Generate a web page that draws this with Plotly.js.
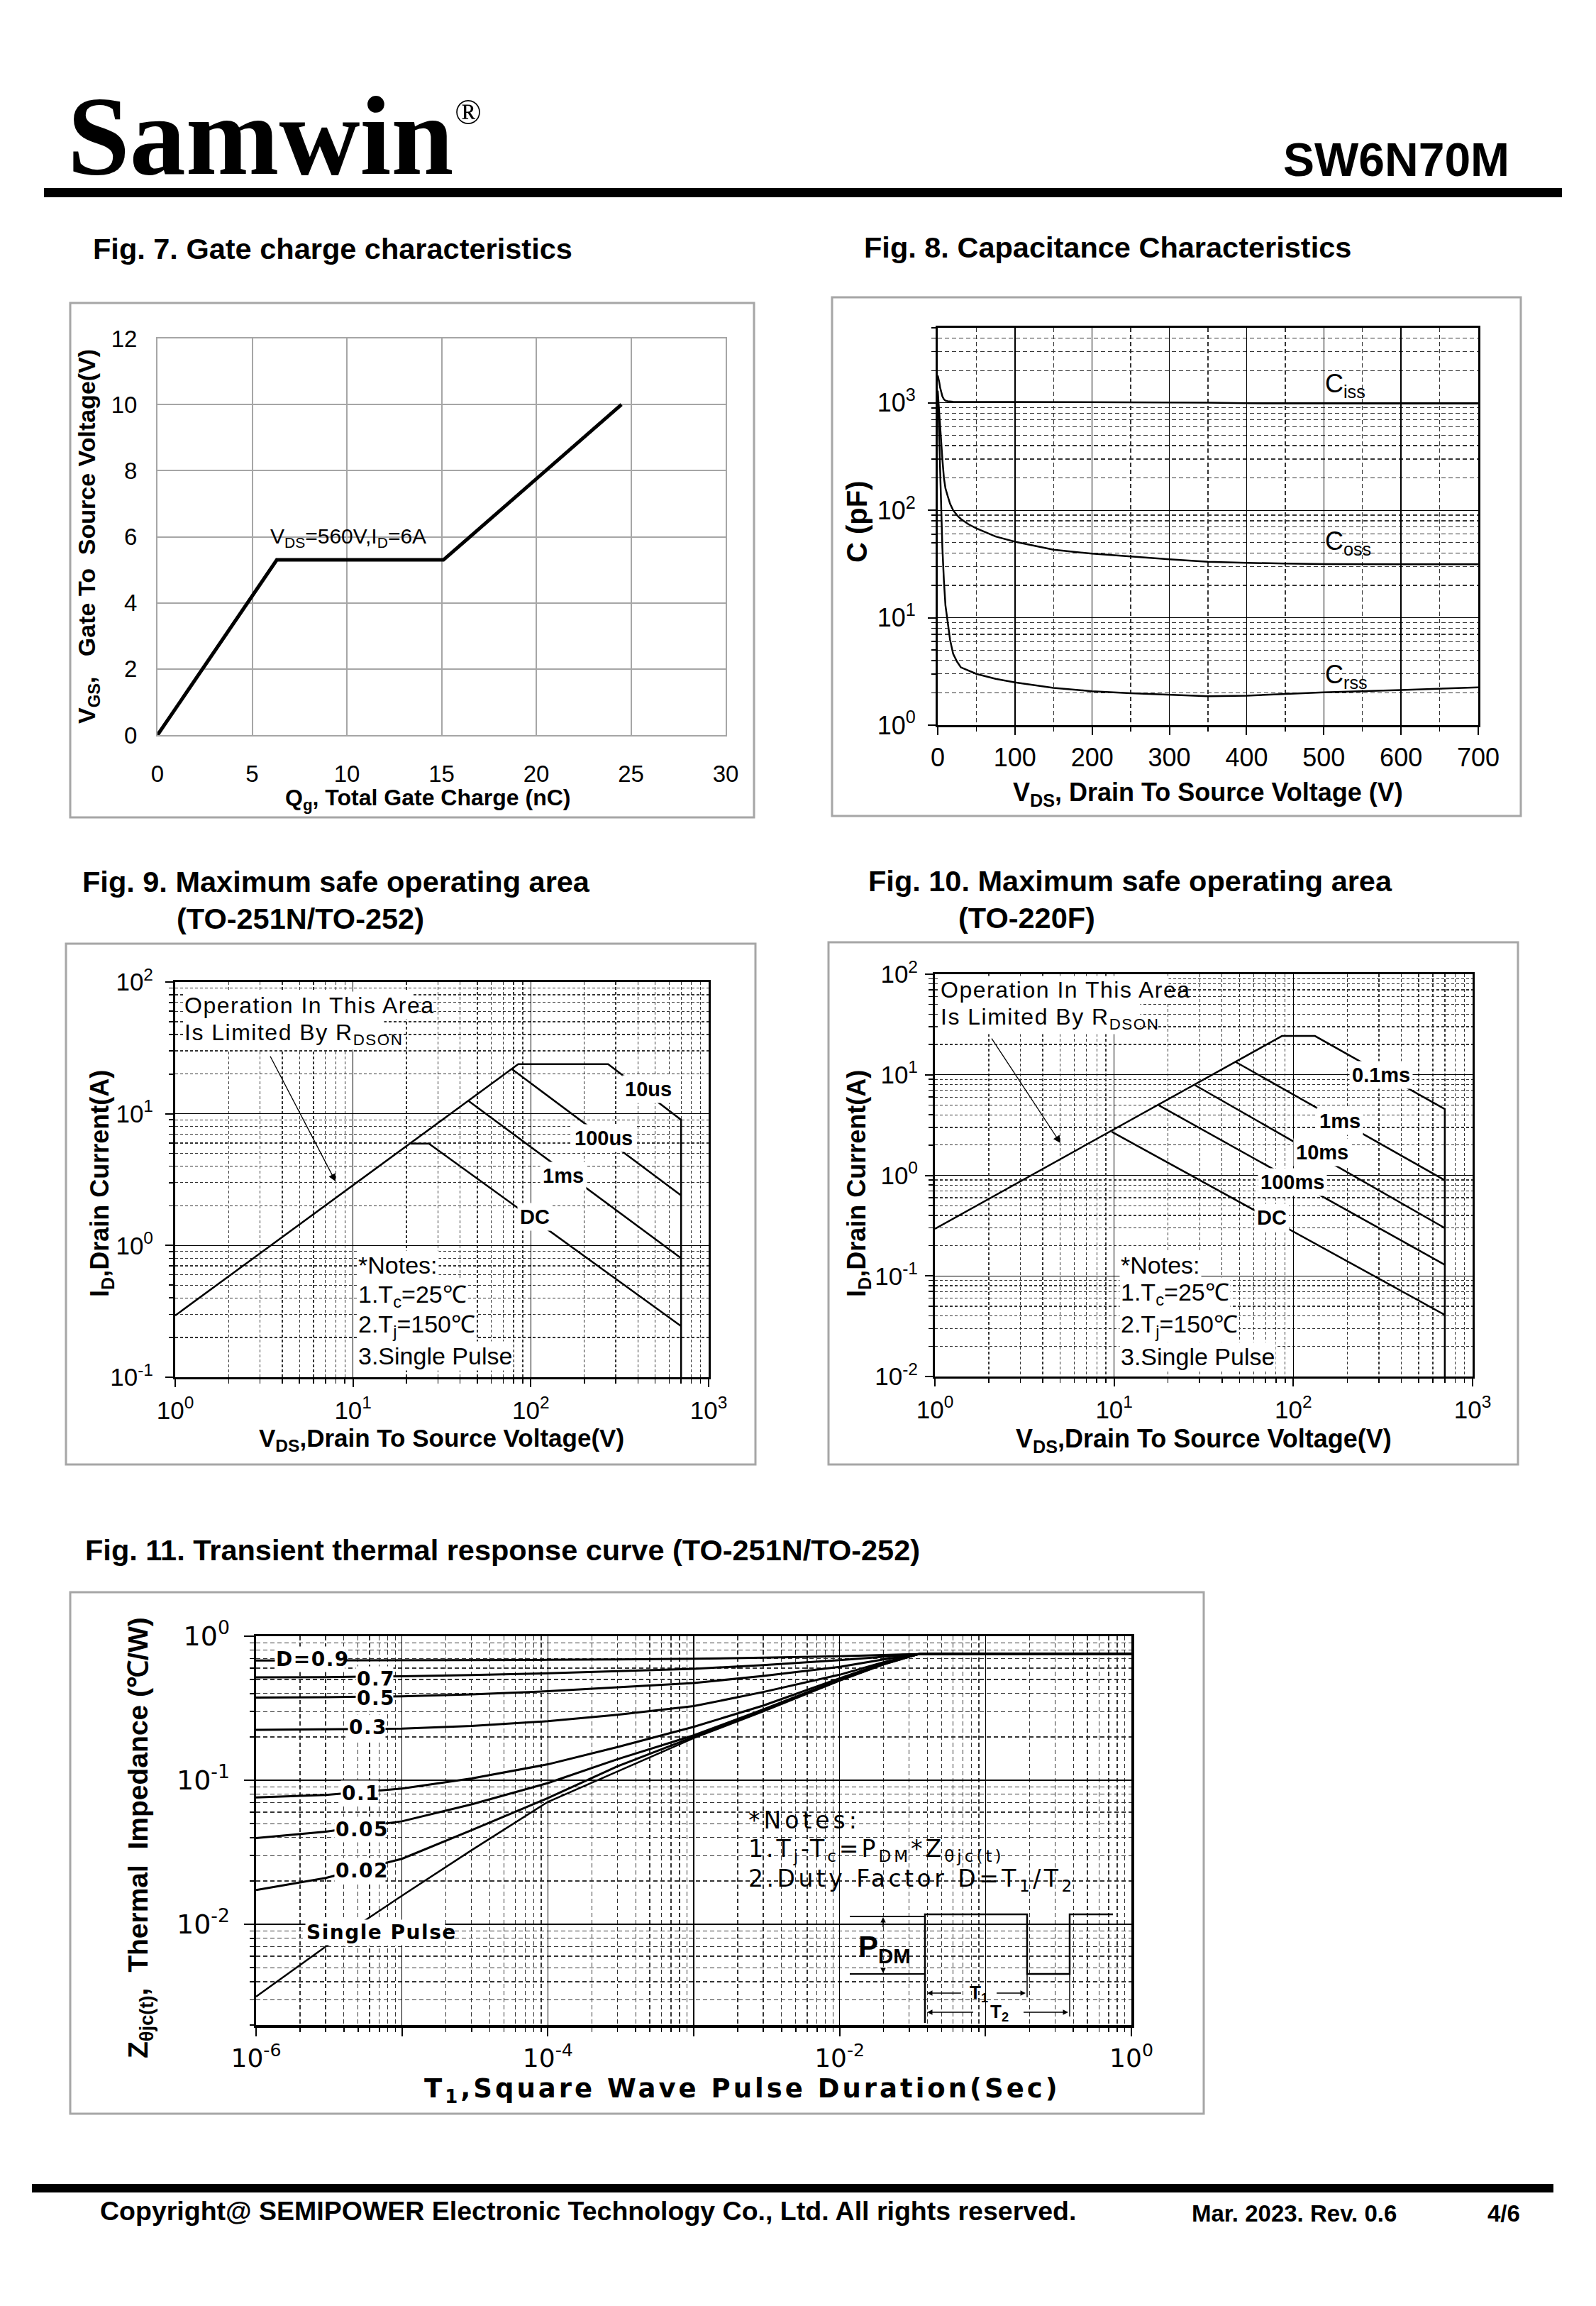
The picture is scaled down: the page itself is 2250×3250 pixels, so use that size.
<!DOCTYPE html>
<html><head><meta charset="utf-8">
<script src="https://cdn.plot.ly/plotly-3.0.1.min.js"></script>
<style>html,body{margin:0;padding:0;background:#fff}</style>
</head><body><div id="chart" style="width:2250px;height:3250px"></div>
<script>
// ================= DATA =================
// Fig. 7 Gate charge
const qgCharge   = [0, 6.3, 15.1, 24.5];
const vgsVoltage = [0, 5.3, 5.3, 10];
const fig7XTicks = [0, 5, 10, 15, 20, 25, 30];
const fig7YTicks = [0, 2, 4, 6, 8, 10, 12];

// Fig. 8 Capacitance
const capVds = [0,1,2,3,4,6,8,10,13,16,20,25,30,40,50,75,100,150,200,250,300,350,400,450,500,600,700];
const cissPF = [1800,1700,1550,1400,1300,1150,1080,1050,1035,1028,1024,1022,1021,1021,1020,1020,1020,1018,1015,1012,1010,1005,992,988,987,986,985];
const cossPF = [1300,1000,800,600,480,300,200,160,135,115,100,90,83,74,68,57,51,43,39.5,37,35,33.2,32.4,32,31.6,31.5,31.5];
const crssPF = [1100,800,450,250,140,45,22,13,9,6.2,4.6,3.9,3.45,3.2,3.0,2.7,2.5,2.22,2.07,1.98,1.92,1.86,1.88,1.95,2.02,2.12,2.25];
const fig8XTicks = [0,100,200,300,400,500,600,700];
const fig8YTickVals = [1,10,100,1000];
const fig8YTickText = ['10<sup>0</sup>','10<sup>1</sup>','10<sup>2</sup>','10<sup>3</sup>'];

// Fig. 9 SOA TO-251N/TO-252
const soa9_10usV  = [1, 85, 272, 700, 700];
const soa9_10usA  = [0.294, 23.8, 23.8, 9.0, 0.1];
const soa9_100usV = [78, 700];
const soa9_100usA = [21.9, 2.4];
const soa9_1msV   = [44.7, 700];
const soa9_1msA   = [12.5, 0.80];
const soa9_DCV    = [21.1, 26.7, 700];
const soa9_DCA    = [5.94, 5.94, 0.244];

// Fig. 10 SOA TO-220F
const soa10_01msV  = [1, 86.4, 132, 700, 700];
const soa10_01msA  = [0.294, 24.3, 24.3, 4.56, 0.01];
const soa10_1msV   = [47.7, 700];
const soa10_1msA   = [13.4, 0.895];
const soa10_10msV  = [28.2, 700];
const soa10_10msA  = [7.9, 0.299];
const soa10_100msV = [17.7, 700];
const soa10_100msA = [4.99, 0.129];
const soa10_DCV    = [9.7, 700];
const soa10_DCA    = [2.71, 0.041];

const soaXTickVals = [1, 10, 100, 1000];
const soaXTickText = ['10<sup>0</sup>','10<sup>1</sup>','10<sup>2</sup>','10<sup>3</sup>'];
const soa9YTickVals = [0.1, 1, 10, 100];
const soa9YTickText = ['10<sup>-1</sup>','10<sup>0</sup>','10<sup>1</sup>','10<sup>2</sup>'];
const soa10YTickVals = [0.01, 0.1, 1, 10, 100];
const soa10YTickText = ['10<sup>-2</sup>','10<sup>-1</sup>','10<sup>0</sup>','10<sup>1</sup>','10<sup>2</sup>'];

// Fig. 11 Transient thermal response
const thermTime = [1e-6, 3e-6, 1e-5, 3e-5, 1e-4, 3e-4, 1e-3, 3e-3, 1e-2, 2e-2, 3.5e-2, 1e-1, 1];
const zthD09    = [0.678,0.679,0.680,0.682,0.685,0.690,0.697,0.710,0.725,0.740,0.752,0.755,0.755];
const zthD07    = [0.518,0.520,0.527,0.537,0.553,0.570,0.594,0.630,0.682,0.720,0.752,0.755,0.755];
const zthD05    = [0.375,0.377,0.383,0.395,0.415,0.440,0.473,0.530,0.612,0.690,0.752,0.755,0.755];
const zthD03    = [0.224,0.225,0.228,0.238,0.257,0.285,0.327,0.410,0.540,0.660,0.752,0.755,0.755];
const zthD01    = [0.076,0.079,0.0875,0.103,0.129,0.170,0.235,0.330,0.510,0.650,0.752,0.755,0.755];
const zthD005   = [0.0397,0.044,0.0519,0.068,0.0956,0.140,0.205,0.310,0.500,0.645,0.752,0.755,0.755];
const zthD002   = [0.0173,0.021,0.0285,0.045,0.0752,0.125,0.200,0.305,0.495,0.640,0.752,0.755,0.755];
const zthSingle = [0.00315,0.0070,0.0158,0.0327,0.0708,0.115,0.196,0.300,0.490,0.635,0.752,0.755,0.755];
const fig11XTickVals = [1e-6,1e-5,1e-4,1e-3,1e-2,1e-1,1];
const fig11XTickText = ['10<sup>-6</sup>','','10<sup>-4</sup>','','10<sup>-2</sup>','','10<sup>0</sup>'];
const fig11YTickVals = [0.01, 0.1, 1];
const fig11YTickText = ['10<sup>-2</sup>','10<sup>-1</sup>','10<sup>0</sup>'];

// ================= LAYOUT HELPERS =================
const W = 2250, H = 3250;
const X = p => p / W;
const Y = p => 1 - p / H;
const SANS = 'Liberation Sans, Arial, sans-serif';
const WIDE = 'DejaVu Sans, Verdana, sans-serif';
const SERIF = 'Liberation Serif, Times New Roman, serif';

function logMinors(lo, hi) { // minor tick positions 2..9 per decade
  const v = [];
  for (let e = lo; e < hi; e++) for (let m = 2; m <= 9; m++) v.push(m * Math.pow(10, e));
  return v;
}
function linMinors(a, b, step) { const v = []; for (let t = a; t <= b; t += step) v.push(t); return v; }

const ann = [];
const lsRules = [];
function T(text, x, y, size, o = {}) {
  const a = {xref:'paper', yref:'paper', x:X(x), y:Y(y), text, showarrow:false,
    font:{family:o.family || SANS, size, color:'#000'}, xanchor:o.xa || 'center', yanchor:'middle',
    textangle:o.angle || 0, borderpad:o.pad == null ? 1 : o.pad, align:'left'};
  if (o.bg) a.bgcolor = o.bg;
  if (o.ls) lsRules.push('g.annotation[data-index="' + ann.length + '"] text{letter-spacing:' + o.ls + 'px}');
  ann.push(a);
}
function A(hx, hy, tx, ty, o = {}) {
  ann.push({xref:'paper', yref:'paper', x:X(hx), y:Y(hy), ax:tx - hx, ay:ty - hy, text:' ',
    showarrow:true, arrowhead:o.head || 2, arrowsize:o.size || 1, arrowwidth:o.w || 2,
    arrowcolor:'#000', standoff:0, startstandoff:0});
}
const shapes = [];
function R(x0, y0, x1, y1, o = {}) {
  shapes.push({type:'rect', xref:'paper', yref:'paper', x0:X(x0), x1:X(x1), y0:Y(y0), y1:Y(y1),
    line:{color:o.color || '#a6a6a6', width:o.w == null ? 3 : o.w}, fillcolor:o.fill || 'rgba(0,0,0,0)'});
}
function L(x0, y0, x1, y1, w) {
  shapes.push({type:'line', xref:'paper', yref:'paper', x0:X(x0), x1:X(x1), y0:Y(y0), y1:Y(y1),
    line:{color:'#000', width:w || 2}});
}
function P(pts, w) {
  const d = pts.map((p, i) => (i ? 'L' : 'M') + X(p[0]) + ',' + Y(p[1])).join(' ');
  shapes.push({type:'path', xref:'paper', yref:'paper', path:d, line:{color:'#000', width:w || 2}});
}

// ================= HEADER / FOOTER =================
T('<b>Samwin</b>', 93, 192, 158, {family:SERIF, xa:'left'});
T('®', 660, 158, 50, {family:SERIF});
T('<b>SW6N70M</b>', 2130, 225, 66, {xa:'right'});
R(62, 265, 2202, 278, {fill:'#000', w:0});
R(45, 3078, 2190, 3090, {fill:'#000', w:0});
T('<b>Copyright@ SEMIPOWER Electronic Technology Co., Ltd. All rights reserved.</b>', 139, 3116, 37.5, {xa:'left'});
T('<b>Mar. 2023. Rev. 0.6</b>', 1678, 3119, 33, {xa:'left'});
T('<b>4/6</b>', 2095, 3119, 33, {xa:'left'});

// ================= FIGURE HEADINGS =================
T('<b>Fig. 7. Gate charge characteristics</b>', 129, 350, 41.5, {xa:'left'});
T('<b>Fig. 8. Capacitance Characteristics</b>', 1216, 348, 41.5, {xa:'left'});
T('<b>Fig. 9. Maximum safe operating area</b>', 114, 1243, 41.5, {xa:'left'});
T('<b>(TO-251N/TO-252)</b>', 247, 1295, 41.5, {xa:'left'});
T('<b>Fig. 10. Maximum safe operating area</b>', 1222, 1241, 41.5, {xa:'left'});
T('<b>(TO-220F)</b>', 1349, 1293, 41.5, {xa:'left'});
T('<b>Fig. 11. Transient thermal response curve (TO-251N/TO-252)</b>', 118, 2184, 41.5, {xa:'left'});

// frames
R(99, 427, 1063, 1152);
R(1173, 419, 2144, 1150);
R(93, 1330, 1065, 2064);
R(1168, 1328, 2140, 2064);
R(99, 2244, 1697, 2979);

// ================= FIG 7 TEXT =================
T('<b>V<sub>GS</sub>,\u00a0\u00a0\u00a0Gate To\u00a0\u00a0Source Voltage(V)</b>', 124, 756, 34, {angle:-90});
T('<b>Q<sub>g</sub>, Total Gate Charge (nC)</b>', 603, 1126, 32);
ann.push({xref:'x', yref:'y', x:5.88, y:5.97, text:'V<sub>DS</sub>=560V,I<sub>D</sub>=6A', showarrow:false,
  xanchor:'left', yanchor:'middle', font:{family:SANS, size:30, color:'#000'}});

// ================= FIG 8 TEXT =================
T('<b>C (pF)</b>', 1208, 735, 40, {angle:-90});
T('<b>V<sub>DS</sub>, Drain To Source Voltage (V)</b>', 1703, 1119, 36);
T('C<sub>iss</sub>', 1866, 543, 36, {xa:'left'});
T('C<sub>oss</sub>', 1866, 765, 36, {xa:'left'});
T('C<sub>rss</sub>', 1866, 953, 36, {xa:'left'});

// ================= FIG 9 TEXT =================
T('Operation In This Area', 258, 1417, 32, {xa:'left', bg:'#fff', ls:1.5});
T('Is Limited By R<sub>DSON</sub>', 258, 1457, 32, {xa:'left', bg:'#fff', ls:1.5});
A(473, 1665, 378, 1483, {w:1.3, size:1.6, head:2});
T('<b>10us</b>', 914, 1535, 29, {bg:'#fff', pad:3});
T('<b>100us</b>', 851, 1604, 29, {bg:'#fff', pad:3});
T('<b>1ms</b>', 794, 1657, 29, {bg:'#fff', pad:3});
T('<b>DC</b>', 754, 1715, 29, {bg:'#fff', pad:3});
T('*Notes:', 503, 1783, 34, {xa:'left', bg:'#fff'});
T('1.T<sub>c</sub>=25℃', 503, 1826, 34, {xa:'left', bg:'#fff'});
T('2.T<sub>j</sub>=150℃', 503, 1868, 34, {xa:'left', bg:'#fff'});
T('3.Single Pulse', 503, 1911, 34, {xa:'left', bg:'#fff'});
T('<b>I<sub>D</sub>,Drain Current(A)</b>', 143, 1668, 36, {angle:-90});
T('<b>V<sub>DS</sub>,Drain To Source Voltage(V)</b>', 622, 2029, 35);

// ================= FIG 10 TEXT =================
T('Operation In This Area', 1324, 1395, 32, {xa:'left', bg:'#fff', ls:1.5});
T('Is Limited By R<sub>DSON</sub>', 1324, 1436, 32, {xa:'left', bg:'#fff', ls:1.5});
A(1495, 1611, 1395, 1459, {w:1.3, size:1.6, head:2});
T('<b>0.1ms</b>', 1947, 1515, 29, {bg:'#fff', pad:3});
T('<b>1ms</b>', 1889, 1580, 29, {bg:'#fff', pad:3});
T('<b>10ms</b>', 1864, 1624, 29, {bg:'#fff', pad:3});
T('<b>100ms</b>', 1822, 1666, 29, {bg:'#fff', pad:3});
T('<b>DC</b>', 1793, 1716, 29, {bg:'#fff', pad:3});
T('*Notes:', 1578, 1783, 34, {xa:'left', bg:'#fff'});
T('1.T<sub>c</sub>=25℃', 1578, 1823, 34, {xa:'left', bg:'#fff'});
T('2.T<sub>j</sub>=150℃', 1578, 1868, 34, {xa:'left', bg:'#fff'});
T('3.Single Pulse', 1578, 1912, 34, {xa:'left', bg:'#fff'});
T('<b>I<sub>D</sub>,Drain Current(A)</b>', 1210, 1668, 36, {angle:-90});
T('<b>V<sub>DS</sub>,Drain To Source Voltage(V)</b>', 1697, 2030, 36);

// ================= FIG 11 TEXT =================
T('<b>D=0.9</b>', 437, 2338, 28, {bg:'#fff', ls:1.5, family:WIDE});
T('<b>0.7</b>', 528, 2366, 28, {bg:'#fff', ls:1.5, family:WIDE});
T('<b>0.5</b>', 528, 2393, 28, {bg:'#fff', ls:1.5, family:WIDE});
T('<b>0.3</b>', 517, 2434, 28, {bg:'#fff', ls:1.5, family:WIDE});
T('<b>0.1</b>', 507, 2527, 28, {bg:'#fff', ls:1.5, family:WIDE});
T('<b>0.05</b>', 507, 2578, 28, {bg:'#fff', ls:1.5, family:WIDE});
T('<b>0.02</b>', 507, 2636, 28, {bg:'#fff', ls:1.5, family:WIDE});
T('<b>Single Pulse</b>', 529, 2723, 28, {bg:'#fff', ls:1.5, family:WIDE});
T('*Notes:', 1053, 2565, 33, {xa:'left', ls:5, family:WIDE});
T('1.T<sub>j</sub>-T<sub>c</sub>=P<sub>DM</sub>*Z<sub>θjc(t)</sub>', 1053, 2607, 33, {xa:'left', ls:4, family:WIDE});
T('2.Duty Factor D=T<sub>1</sub>/T<sub>2</sub>', 1053, 2649, 33, {xa:'left', ls:4.5, family:WIDE});
T('<b>Z<sub>θjc(t)</sub>,\u00a0\u00a0Thermal\u00a0\u00a0Impedance (℃/W)</b>', 197, 2590, 39, {angle:-90});
T('<b>T<sub>1</sub>,Square Wave Pulse Duration(Sec)</b>', 978, 2946, 37, {ls:4, family:WIDE});
// PDM diagram
T('<b>P<sub>DM</sub></b>', 1247, 2746, 42);
A(1245, 2702, 1245, 2726, {w:1.5, size:1, head:2});
A(1245, 2781, 1245, 2768, {w:1.5, size:1, head:2});
T('<b>T<sub>1</sub></b>', 1380, 2809, 26);
T('<b>T<sub>2</sub></b>', 1409, 2836, 26);
A(1307, 2809, 1358, 2809, {w:1.5, size:1, head:2});
A(1446, 2809, 1402, 2809, {w:1.5, size:1, head:2});
A(1307, 2836, 1375, 2836, {w:1.5, size:1, head:2});
A(1506, 2836, 1440, 2836, {w:1.5, size:1, head:2});
L(1198, 2701, 1304, 2701, 2);
L(1198, 2782, 1304, 2782, 2);
P([[1304, 2851], [1304, 2698], [1448, 2698], [1448, 2782], [1508, 2782], [1508, 2698], [1569, 2698]], 2.5);
L(1448, 2782, 1448, 2815, 1.5);
L(1508, 2782, 1508, 2842, 1.5);

// ================= AXES =================
const tf = (s, f) => ({family:f || SANS, size:s, color:'#000'});
function logAx(o) {
  return Object.assign({
    type:'log', tickmode:'array', showgrid:true, gridcolor:'#000', gridwidth:1.3, zeroline:false,
    showline:true, linecolor:'#000', linewidth:3, mirror:true, ticks:'outside', ticklen:11,
    tickwidth:2, tickcolor:'#000', fixedrange:true,
    minor:{tickmode:'array', tickvals:o.mv, showgrid:true, gridcolor:'#333', gridwidth:1.3,
      griddash:o.dash || '4px,3px', ticks:'outside', ticklen:6, tickwidth:1.5, tickcolor:'#000'}
  }, o.ax);
}

const layout = {
  width:W, height:H, margin:{l:0, r:0, t:0, b:0}, paper_bgcolor:'#fff', plot_bgcolor:'#fff',
  showlegend:false, hovermode:false,
  // Fig 7
  xaxis:{domain:[X(222), X(1023)], range:[0, 30], tickmode:'array', tickvals:fig7XTicks, ticktext:fig7XTicks.map(String),
    showgrid:true, gridcolor:'#a6a6a6', gridwidth:2, zeroline:false, showline:true, linecolor:'#a6a6a6', linewidth:2,
    mirror:true, ticks:'', tickfont:tf(33), ticklabelstandoff:24, anchor:'y', fixedrange:true},
  yaxis:{domain:[Y(1036), Y(477)], range:[0, 12], tickmode:'array', tickvals:fig7YTicks, ticktext:fig7YTicks.map(String),
    showgrid:true, gridcolor:'#a6a6a6', gridwidth:2, zeroline:false, showline:true, linecolor:'#a6a6a6', linewidth:2,
    mirror:true, ticks:'', tickfont:tf(33), ticklabelstandoff:20, anchor:'x', fixedrange:true},
  // Fig 8
  xaxis2:{domain:[X(1322), X(2084)], range:[0, 700], tickmode:'array', tickvals:fig8XTicks, ticktext:fig8XTicks.map(String),
    showgrid:true, gridcolor:'#000', gridwidth:1.3, zeroline:false, showline:true, linecolor:'#000', linewidth:3,
    mirror:true, ticks:'outside', ticklen:11, tickwidth:2, tickcolor:'#000', tickfont:tf(36), ticklabelstandoff:1,
    minor:{tickmode:'array', tickvals:linMinors(50, 650, 100), showgrid:true, gridcolor:'#333', gridwidth:1.3,
      griddash:'6px,4px', ticks:'outside', ticklen:6, tickwidth:1.5, tickcolor:'#000'},
    anchor:'y2', fixedrange:true},
  yaxis2:logAx({mv:logMinors(0, 4).filter(v => v <= 5000), dash:'6px,4px',
    ax:{domain:[Y(1022), Y(462)], range:[0, Math.log10(5000)], tickvals:fig8YTickVals, ticktext:fig8YTickText,
      tickfont:tf(36), ticklabelstandoff:10, anchor:'x2'}}),
  // Fig 9
  xaxis3:logAx({mv:logMinors(0, 3), ax:{domain:[X(247), X(999)], range:[0, 3], tickvals:soaXTickVals, ticktext:soaXTickText,
    tickfont:tf(35), ticklabelstandoff:3, anchor:'y3'}}),
  yaxis3:logAx({mv:logMinors(-1, 2), ax:{domain:[Y(1941), Y(1384)], range:[-1, 2], tickvals:soa9YTickVals, ticktext:soa9YTickText,
    tickfont:tf(35), ticklabelstandoff:10, anchor:'x3'}}),
  // Fig 10
  xaxis4:logAx({mv:logMinors(0, 3), ax:{domain:[X(1318), X(2076)], range:[0, 3], tickvals:soaXTickVals, ticktext:soaXTickText,
    tickfont:tf(35), ticklabelstandoff:3, anchor:'y4'}}),
  yaxis4:logAx({mv:logMinors(-2, 2), ax:{domain:[Y(1940), Y(1373)], range:[-2, 2], tickvals:soa10YTickVals, ticktext:soa10YTickText,
    tickfont:tf(35), ticklabelstandoff:3, anchor:'x4'}}),
  // Fig 11
  xaxis5:logAx({mv:logMinors(-6, 0), dash:'6px,4px', ax:{domain:[X(361), X(1595)], range:[-6, 0], tickvals:fig11XTickVals,
    ticktext:fig11XTickText, tickfont:tf(36, WIDE), ticklabelstandoff:0, linewidth:3.5, ticklen:12, anchor:'y5'}}),
  yaxis5:logAx({mv:logMinors(-3, 0).filter(v => v >= 0.0019), dash:'6px,4px', ax:{domain:[Y(2854), Y(2306)],
    range:[Math.log10(0.002), 0], tickvals:fig11YTickVals, ticktext:fig11YTickText, tickfont:tf(38, WIDE),
    ticklabelstandoff:12, linewidth:3.5, ticklen:14, anchor:'x5'}}),
  shapes, annotations:ann
};

// ================= TRACES =================
const ln = (x, y, xa, ya, w) => ({x, y, xaxis:xa, yaxis:ya, mode:'lines', line:{color:'#000', width:w}, hoverinfo:'skip', showlegend:false});
const data = [
  ln(qgCharge, vgsVoltage, 'x', 'y', 5),
  ln(capVds, cissPF, 'x2', 'y2', 2.5),
  ln(capVds, cossPF, 'x2', 'y2', 2.5),
  ln(capVds, crssPF, 'x2', 'y2', 2.5),
  ln(soa9_10usV, soa9_10usA, 'x3', 'y3', 2.5),
  ln(soa9_100usV, soa9_100usA, 'x3', 'y3', 2.5),
  ln(soa9_1msV, soa9_1msA, 'x3', 'y3', 2.5),
  ln(soa9_DCV, soa9_DCA, 'x3', 'y3', 2.5),
  ln(soa10_01msV, soa10_01msA, 'x4', 'y4', 2.5),
  ln(soa10_1msV, soa10_1msA, 'x4', 'y4', 2.5),
  ln(soa10_10msV, soa10_10msA, 'x4', 'y4', 2.5),
  ln(soa10_100msV, soa10_100msA, 'x4', 'y4', 2.5),
  ln(soa10_DCV, soa10_DCA, 'x4', 'y4', 2.5),
  ln(thermTime, zthD09, 'x5', 'y5', 3),
  ln(thermTime, zthD07, 'x5', 'y5', 3),
  ln(thermTime, zthD05, 'x5', 'y5', 3),
  ln(thermTime, zthD03, 'x5', 'y5', 3),
  ln(thermTime, zthD01, 'x5', 'y5', 3),
  ln(thermTime, zthD005, 'x5', 'y5', 3),
  ln(thermTime, zthD002, 'x5', 'y5', 3),
  ln(thermTime, zthSingle, 'x5', 'y5', 2.5)
];

const st = document.createElement('style');
st.textContent = lsRules.join('\n');
document.head.appendChild(st);

Plotly.newPlot('chart', data, layout, {staticPlot:true, displayModeBar:false});
</script>
</body></html>
